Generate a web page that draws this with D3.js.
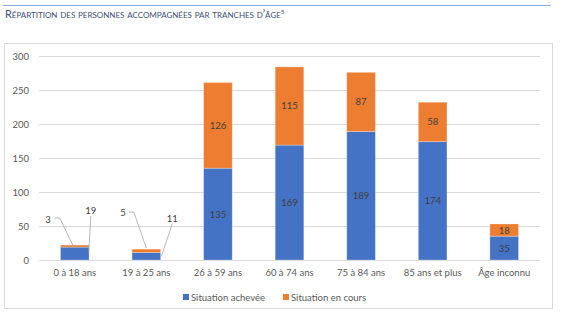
<!DOCTYPE html>
<html><head><meta charset="utf-8">
<script src="https://cdn.jsdelivr.net/npm/d3@7"></script>
<style>
body{margin:0;background:#fff;}
svg{display:block;font-family:Lato,"Open Sans",sans-serif;}
</style></head><body>
<svg id="c" width="562" height="322"></svg>
<script>
const categories = ["0 à 18 ans","19 à 25 ans","26 à 59 ans","60 à 74 ans","75 à 84 ans","85 ans et plus","Âge inconnu"];
const achevee = [19,11,135,169,189,174,35];
const enCours = [3,5,126,115,87,58,18];
const seriesNames = ["Situation achevée","Situation en cours"];
const colors = ["#4472C4","#ED7D31"];
const yTicks = [0,50,100,150,200,250,300];

const svg = d3.select("#c");
// top rule and title
svg.append("line").attr("x1",3).attr("x2",551).attr("y1",5.5).attr("y2",5.5).attr("stroke","#8eaadb").attr("stroke-width",1.2);
const t = svg.append("text").attr("x",5).attr("y",18).attr("fill","#3d4f75").attr("font-size",10.8)
  .style("font-variant","small-caps").text("Répartition des personnes accompagnées par tranches d’âge");
t.append("tspan").attr("dy",-4).attr("font-size",6.5).text("5");

// frame
svg.append("rect").attr("x",4.5).attr("y",43.5).attr("width",548).attr("height",265).attr("fill","#fff").attr("stroke","#d9d9d9");

const m = {l:39,r:540,t:56,b:260};
const x = d3.scaleBand().domain(categories).range([m.l,m.r]).paddingInner(0.6).paddingOuter(0.3);
const y = d3.scaleLinear().domain([0,300]).range([m.b,m.t]);

const g = svg.append("g");
g.selectAll(".grid").data(yTicks).join("line").attr("x1",m.l).attr("x2",m.r)
  .attr("y1",d=>Math.round(y(d))+0.5).attr("y2",d=>Math.round(y(d))+0.5).attr("stroke","#d9d9d9");

const yAxis = d3.axisLeft(y).tickValues(yTicks).tickSize(0).tickPadding(10);
const ya = svg.append("g").attr("transform",`translate(${m.l},0)`).call(yAxis);
ya.select(".domain").remove();
ya.selectAll("text").attr("fill","#595959").attr("font-size",9.5).style("font-family","Lato,'Open Sans',sans-serif");

const xAxis = d3.axisBottom(x).tickSize(0).tickPadding(9);
const xa = svg.append("g").attr("transform",`translate(0,${m.b})`).call(xAxis);
xa.select(".domain").remove();
xa.selectAll("text").attr("fill","#595959").attr("font-size",9.5).style("font-family","Lato,'Open Sans',sans-serif");

const stack = d3.stack().keys([0,1]).value((d,k)=>d[k]);
const rows = categories.map((c,i)=>({cat:c,0:achevee[i],1:enCours[i]}));
const layers = stack(rows);
layers.forEach((layer,k)=>{
  g.selectAll(".b"+k).data(layer).join("rect")
    .attr("x",d=>x(d.data.cat)).attr("width",x.bandwidth())
    .attr("y",d=>y(d[1])).attr("height",d=>y(d[0])-y(d[1]))
    .attr("fill",colors[k]).attr("stroke","#fff").attr("stroke-opacity",0.35).attr("stroke-width",0.8);
});
// inside labels
layers.forEach((layer,k)=>{
  g.selectAll(".l"+k).data(layer.filter((d,i)=>i>=2)).join("text")
    .attr("x",d=>x(d.data.cat)+x.bandwidth()/2).attr("y",d=>(y(d[0])+y(d[1]))/2+3.5)
    .attr("text-anchor","middle").attr("fill","#404040").attr("font-size",9.5)
    .text(d=>d[1]-d[0]);
});
// callouts for first two
const callouts = [
  {i:0,k:1,v:enCours[0],lx:-24,ly:-26,anchor:"end",pts:[[-20,-27],[-15,-27],[-2,0]]},
  {i:0,k:0,v:achevee[0],lx:16,ly:-37,anchor:"middle",pts:[[16,-31],[14,5]]},
  {i:1,k:1,v:enCours[1],lx:-20.5,ly:-37,anchor:"end",pts:[[-17.5,-37],[-12.5,-37],[0,-1]]},
  {i:1,k:0,v:achevee[1],lx:26,ly:-34,anchor:"middle",pts:[[26,-29],[15,4]]}
];
callouts.forEach(c=>{
  const d = layers[c.k][c.i];
  const cx = x(categories[c.i])+x.bandwidth()/2, cy = y(d[1]);
  g.append("polyline").attr("points",c.pts.map(p=>[cx+p[0],cy+p[1]].join(",")).join(" "))
    .attr("fill","none").attr("stroke","#a6a6a6").attr("stroke-width",0.8);
  g.append("text").attr("x",cx+c.lx).attr("y",cy+c.ly+3.5).attr("text-anchor",c.anchor)
    .attr("fill","#404040").attr("font-size",9.5).text(c.v);
});

// legend
const leg = svg.append("g").attr("transform","translate(183,294)");
seriesNames.forEach((s,k)=>{
  const gx = k*100;
  leg.append("rect").attr("x",gx).attr("y",0).attr("width",6).attr("height",6).attr("fill",colors[k]);
  leg.append("text").attr("x",gx+8).attr("y",6.5).attr("fill","#595959").attr("font-size",9.5).text(s);
});
</script></body></html>
